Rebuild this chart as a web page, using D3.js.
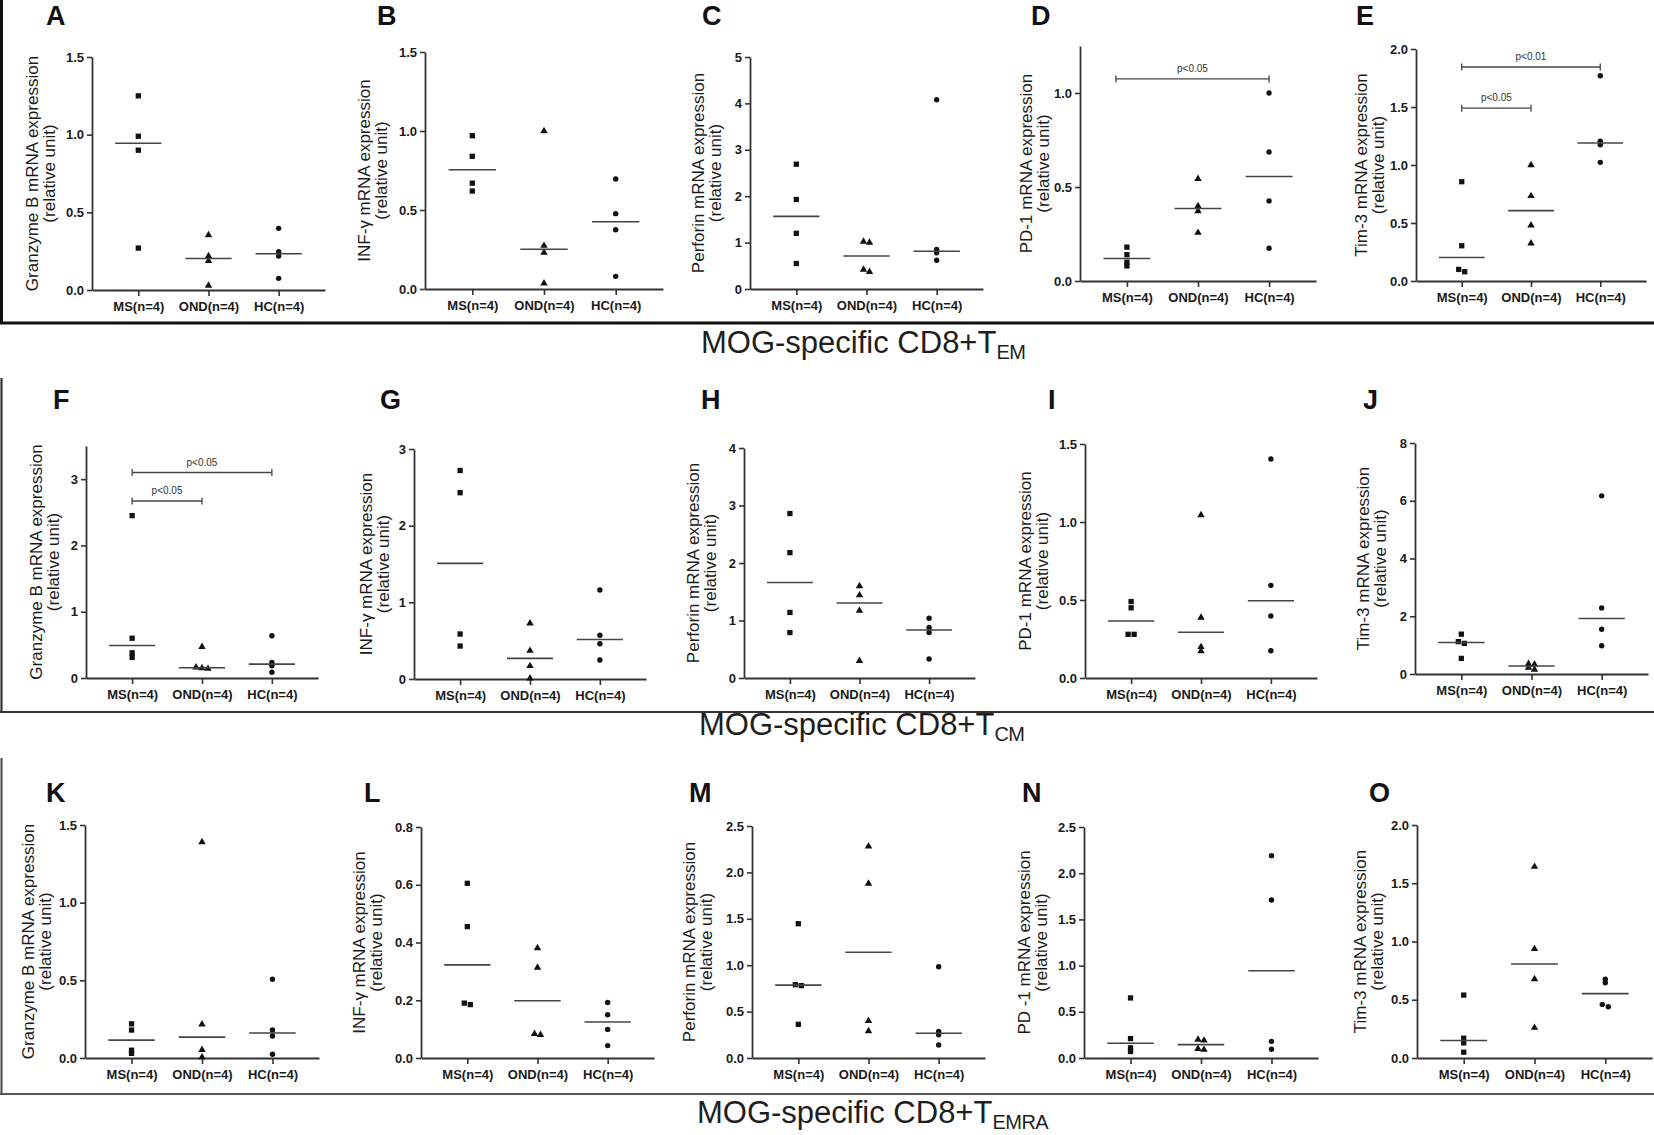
<!DOCTYPE html>
<html><head><meta charset="utf-8">
<script src="https://cdn.jsdelivr.net/npm/d3@7"></script>
<style>body{margin:0;background:#fff}svg{display:block}</style>
</head><body>
<svg id="c" width="1654" height="1135"></svg>
<script>
// ---------------- DATA ----------------
const groups = ["MS(n=4)", "OND(n=4)", "HC(n=4)"];
const letters = ["A","B","C","D","E","F","G","H","I","J","K","L","M","N","O"];
const yTitles = [
  "Granzyme B mRNA expression","INF-γ mRNA expression","Perforin mRNA expression","PD-1 mRNA expression","Tim-3 mRNA expression",
  "Granzyme B mRNA expression","INF-γ mRNA expression","Perforin mRNA expression","PD-1 mRNA expression","Tim-3 mRNA expression",
  "Granzyme B mRNA expression","INF-γ mRNA expression","Perforin mRNA expression","PD -1 mRNA expression","Tim-3 mRNA expression"
];
const yTitle2 = "(relative unit)";
const rowTitleMain = "MOG-specific CD8+T";
const rowTitleSub = ["EM", "CM", "EMRA"];

// values per panel: [MS, OND, HC]
const valA = [[1.25,0.99,0.90,0.27],[0.354,0.219,0.187,0.028],[0.397,0.247,0.219,0.075]];
const valB = [[0.97,0.84,0.67,0.62],[1.0,0.274,0.23,0.036],[0.696,0.477,0.375,0.080]];
const valC = [[2.69,1.93,1.20,0.55],[1.0,1.02,0.37,0.42],[4.08,0.85,0.78,0.62]];
const valD = [[0.18,0.14,0.10,0.08],[0.543,0.399,0.372,0.257],[1.0,0.686,0.426,0.174]];
const valE = [[0.856,0.304,0.08,0.10],[1.0,0.733,0.48,0.325],[1.77,1.205,1.175,1.023]];
const valF = [[2.45,0.60,0.38,0.31],[0.47,0.16,0.15,0.14],[0.637,0.235,0.185,0.086]];
const valG = [[2.72,2.43,0.587,0.43],[0.726,0.369,0.17,0.01],[1.16,0.57,0.46,0.248]];
const valH = [[2.86,2.18,1.14,0.79],[1.6,1.44,1.17,0.30],[1.04,0.88,0.79,0.33]];
const valI = [[0.49,0.45,0.28,0.28],[1.045,0.387,0.199,0.173],[1.404,0.594,0.397,0.175]];
const valJ = [[1.38,1.12,1.06,0.54],[0.35,0.33,0.22,0.15],[6.17,2.29,1.55,0.98]];
const valK = [[0.22,0.18,0.05,0.03],[1.39,0.217,0.052,0.005],[0.507,0.18,0.142,0.024]];
const valL = [[0.605,0.455,0.19,0.185],[0.381,0.313,0.084,0.08],[0.192,0.15,0.099,0.043]];
const valM = [[1.447,0.79,0.78,0.363],[2.28,1.88,0.40,0.29],[0.984,0.285,0.25,0.14]];
const valN = [[0.65,0.21,0.11,0.07],[0.20,0.19,0.10,0.09],[2.19,1.71,0.18,0.094]];
const valO = [[0.54,0.17,0.13,0.05],[1.642,0.936,0.678,0.26],[0.676,0.646,0.46,0.44]];

const yMax = [1.5,1.5,5,1.25,2.0, 3.5,3,4,1.5,8, 1.5,0.8,2.5,2.5,2.0];
const yTicks = [
  [0,0.5,1,1.5],[0,0.5,1,1.5],[0,1,2,3,4,5],[0,0.5,1],[0,0.5,1,1.5,2],
  [0,1,2,3],[0,1,2,3],[0,1,2,3,4],[0,0.5,1,1.5],[0,2,4,6,8],
  [0,0.5,1,1.5],[0,0.2,0.4,0.6,0.8],[0,0.5,1,1.5,2,2.5],[0,0.5,1,1.5,2,2.5],[0,0.5,1,1.5,2]
];
const tickDecimals = [1,1,0,1,1, 0,0,0,1,0, 1,1,1,1,1];

// significance annotations: [fromGroup, toGroup, level, label]
const sigD = [[0,2,1.075,"p<0.05"]];
const sigE = [[0,1,1.49,"p<0.05"],[0,2,1.845,"p<0.01"]];
const sigF = [[0,1,2.67,"p<0.05"],[0,2,3.10,"p<0.05"]];

const panelValues = [valA,valB,valC,valD,valE,valF,valG,valH,valI,valJ,valK,valL,valM,valN,valO];
const panelSigs = {3: sigD, 4: sigE, 5: sigF};

// ---------------- LAYOUT ----------------
const layout = [
  {x0:92,  x1:325,  yTop:57,  yBot:290, lx:46,   ly:25,  tx:32},
  {x0:425, x1:663,  yTop:52,  yBot:289, lx:377,  ly:25,  tx:364},
  {x0:750, x1:983,  yTop:57,  yBot:289, lx:702,  ly:25,  tx:698},
  {x0:1080,x1:1316, yTop:46,  yBot:281, lx:1031, ly:25,  tx:1026},
  {x0:1416,x1:1646, yTop:49,  yBot:281, lx:1356, ly:25,  tx:1361},
  {x0:86,  x1:318,  yTop:446, yBot:678, lx:53,   ly:409, tx:36},
  {x0:414, x1:646,  yTop:449, yBot:679, lx:380,  ly:409, tx:366},
  {x0:744, x1:975,  yTop:448, yBot:678, lx:701,  ly:409, tx:693},
  {x0:1085,x1:1317, yTop:444, yBot:678, lx:1048, ly:409, tx:1025},
  {x0:1415,x1:1648, yTop:443, yBot:674, lx:1363, ly:409, tx:1363},
  {x0:85,  x1:319,  yTop:825, yBot:1058,lx:46,   ly:802, tx:28},
  {x0:421, x1:654,  yTop:827, yBot:1058,lx:364,  ly:802, tx:359},
  {x0:752, x1:985,  yTop:826, yBot:1058,lx:689,  ly:802, tx:689},
  {x0:1084,x1:1318, yTop:827, yBot:1058,lx:1022, ly:802, tx:1024},
  {x0:1417,x1:1652, yTop:825, yBot:1058,lx:1369, ly:802, tx:1360}
];
const rowTitlePos = [{x:701,y:353},{x:699,y:735},{x:697,y:1123}];

const FONT = "'Liberation Sans', Arial, Helvetica, sans-serif";
const svg = d3.select("#c");

// frames
const frames = [
  {y0:0,   y1:323,  w:3,   c:"#111"},
  {y0:378, y1:712,  w:2.2, c:"#333"},
  {y0:758, y1:1094, w:2.2, c:"#555"}
];
frames.forEach(f=>{
  svg.append("line").attr("x1",1.5).attr("x2",1.5).attr("y1",f.y0).attr("y2",f.y1)
    .attr("stroke",f.c).attr("stroke-width",f.w);
  svg.append("line").attr("x1",0).attr("x2",1654).attr("y1",f.y1).attr("y2",f.y1)
    .attr("stroke",f.c).attr("stroke-width",f.w);
});

// row titles
rowTitlePos.forEach((p,i)=>{
  const t = svg.append("text").attr("x",p.x).attr("y",p.y)
    .attr("font-family",FONT).attr("font-size",31).attr("fill","#1e1e1e");
  t.append("tspan").text(rowTitleMain);
  t.append("tspan").attr("dy",6).attr("font-size",20).attr("letter-spacing",-0.5).text(rowTitleSub[i]);
});

const shapes = [d3.symbolSquare, d3.symbolTriangle, d3.symbolCircle];
const shapeSize = [28, 24, 23];

panelValues.forEach((vals,i)=>{
  const L = layout[i];
  const g = svg.append("g");
  const x = d3.scalePoint().domain(groups).range([L.x0,L.x1]).padding(0.66);
  const y = d3.scaleLinear().domain([0,yMax[i]]).range([L.yBot,L.yTop]);

  // panel letter
  g.append("text").attr("x",L.lx).attr("y",L.ly).text(letters[i])
    .attr("font-family",FONT).attr("font-weight","bold").attr("font-size",27).attr("fill","#111");

  // y axis
  const ya = g.append("g").attr("transform",`translate(${L.x0},0)`)
    .call(d3.axisLeft(y).tickValues(yTicks[i]).tickFormat(d3.format("."+tickDecimals[i]+"f"))
      .tickSize(5).tickSizeOuter(0).tickPadding(3));
  // x axis
  const xa = g.append("g").attr("transform",`translate(0,${L.yBot})`)
    .call(d3.axisBottom(x).tickSize(6).tickSizeOuter(0).tickPadding(6));
  [ya,xa].forEach(a=>{
    a.select(".domain").attr("stroke","#333").attr("stroke-width",1.8);
    a.selectAll(".tick line").attr("stroke","#333").attr("stroke-width",1.6);
    a.selectAll(".tick text").attr("font-family",FONT).attr("font-weight","bold")
      .attr("font-size",13).attr("fill","#1a1a1a");
  });

  // y title
  const cy = (L.yTop + L.yBot)/2;
  [yTitles[i], yTitle2].forEach((s,k)=>{
    g.append("text").attr("transform",`translate(${L.tx + k*17},${cy}) rotate(-90)`)
      .attr("text-anchor","middle").attr("dominant-baseline","central")
      .attr("font-family",FONT).attr("font-size",17).attr("fill","#1a1a1a").text(s);
  });

  const step = x.step();
  vals.forEach((arr,gi)=>{
    const cx = x(groups[gi]);
    // dodge overlapping points horizontally
    const pts = arr.map(v=>({v, py:y(v)})).sort((a,b)=>a.py-b.py);
    const clusters = []; let cur = [pts[0]];
    for (let k=1;k<pts.length;k++){
      if (pts[k].py - pts[k-1].py < 3) cur.push(pts[k]); else { clusters.push(cur); cur=[pts[k]]; }
    }
    clusters.push(cur);
    clusters.forEach(c=>c.forEach((p,j)=>{ p.dx = (j-(c.length-1)/2)*6; }));
    g.selectAll(null).data(pts).enter().append("path")
      .attr("d", d3.symbol().type(shapes[gi]).size(shapeSize[gi]))
      .attr("transform", p=>`translate(${cx+p.dx},${p.py})`)
      .attr("fill","#111");
    // median line
    const m = d3.median(arr);
    g.append("line").attr("x1",cx-step*0.33).attr("x2",cx+step*0.33)
      .attr("y1",y(m)).attr("y2",y(m)).attr("stroke","#444").attr("stroke-width",1.6);
  });

  // significance bars
  (panelSigs[i]||[]).forEach(s=>{
    const xa0 = x(groups[s[0]]) - (i===3 ? 11 : 0), xa1 = x(groups[s[1]]), yy = y(s[2]);
    g.append("line").attr("x1",xa0).attr("x2",xa1).attr("y1",yy).attr("y2",yy)
      .attr("stroke","#444").attr("stroke-width",1.3);
    [xa0,xa1].forEach(xx=>g.append("line").attr("x1",xx).attr("x2",xx).attr("y1",yy-3.5).attr("y2",yy+3.5)
      .attr("stroke","#444").attr("stroke-width",1.3));
    g.append("text").attr("x",(xa0+xa1)/2).attr("y",yy-7).attr("text-anchor","middle")
      .attr("font-family",FONT).attr("font-size",10).attr("fill","#333").text(s[3]);
  });
});
</script>
</body></html>
